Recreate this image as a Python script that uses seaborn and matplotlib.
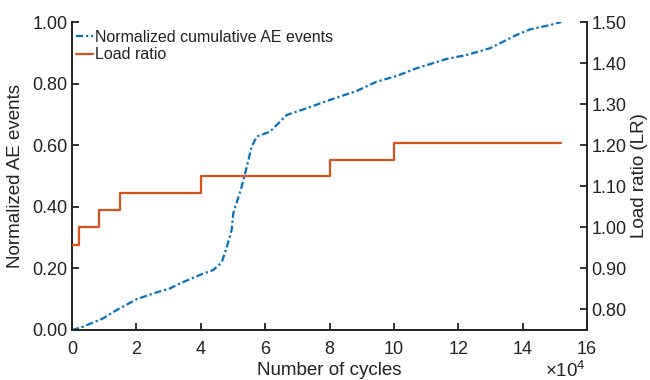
import numpy as np
import pandas as pd
import matplotlib
matplotlib.use("Agg")
import matplotlib.pyplot as plt
import seaborn as sns
from matplotlib.ticker import FuncFormatter, MultipleLocator

# ---- data ----
ae_cycles = [0, 3500, 9700, 13900, 20100, 25300, 30400, 33500, 39800, 43900, 46500,
             48100, 49600, 50100, 52700, 54300, 55800, 57400, 61500, 66700, 72900,
             80100, 88400, 94600, 100900, 107100, 116400, 122600, 129900, 138100,
             142300, 148500, 152000]
ae_norm = [0.000, 0.011, 0.038, 0.065, 0.100, 0.119, 0.135, 0.151, 0.179, 0.195, 0.219,
           0.270, 0.325, 0.379, 0.465, 0.530, 0.595, 0.628, 0.644, 0.698, 0.720,
           0.747, 0.776, 0.806, 0.825, 0.850, 0.880, 0.893, 0.915, 0.958,
           0.976, 0.990, 1.000]

lr_cycles = [0, 2300, 8500, 15000, 40000, 80000, 100000, 152000]
lr_values = [0.958, 1.000, 1.042, 1.084, 1.126, 1.165, 1.206, 1.206]

x_ticks = [0, 2, 4, 6, 8, 10, 12, 14, 16]
label_ae = "Normalized cumulative AE events"
label_lr = "Load ratio"

sns.set_theme(style="ticks")
plt.rcParams['font.family'] = ['Liberation Sans', 'DejaVu Sans']
plt.rcParams['mathtext.fontset'] = 'custom'
plt.rcParams['mathtext.rm'] = 'Liberation Sans'
plt.rcParams['mathtext.it'] = 'Liberation Sans'

blue = "#0072BD"
orange = "#D95319"
ink = "#222222"

fig = plt.figure(figsize=(6.5, 3.8), dpi=100)
ax = fig.add_axes([0.1108, 0.1316, 0.7923, 0.8105])
ax2 = ax.twinx()

df_ae = pd.DataFrame({"cycles": ae_cycles, "ae": ae_norm})
df_lr = pd.DataFrame({"cycles": lr_cycles, "lr": lr_values})

sns.lineplot(data=df_ae, x="cycles", y="ae", ax=ax, color=blue, linewidth=1.6,
             linestyle=(0, (3.2, 1.3, 1.0, 1.3)), sort=False, label=label_ae, legend=False)
sns.lineplot(data=df_lr, x="cycles", y="lr", ax=ax2, color=orange, linewidth=1.6,
             drawstyle="steps-post", sort=False, label=label_lr, legend=False)

ax.set_xlim(0, 160000)
ax.set_ylim(0, 1.0)
ax2.set_ylim(0.75, 1.5)
ax.set_xticks([t * 1e4 for t in x_ticks])
ax.xaxis.set_major_formatter(FuncFormatter(lambda v, p: f"{v/1e4:.0f}"))
ax.yaxis.set_major_locator(MultipleLocator(0.2))
ax.yaxis.set_major_formatter(FuncFormatter(lambda v, p: f"{v:.2f}"))
ax2.set_yticks([0.8, 0.9, 1.0, 1.1, 1.2, 1.3, 1.4, 1.5])
ax2.yaxis.set_major_formatter(FuncFormatter(lambda v, p: f"{v:.2f}"))

for a in (ax, ax2):
    a.tick_params(direction="in", length=5, width=1.3, labelsize=13, colors=ink,
                  labelcolor=ink, pad=3)
    for s in a.spines.values():
        s.set_linewidth(1.4)
        s.set_color(ink)
    a.spines["top"].set_visible(False)
ax.tick_params(axis="x", pad=8)
ax.spines["right"].set_visible(False)
ax2.spines["left"].set_visible(False)
ax2.spines["bottom"].set_visible(False)

ax.set_xlabel("Number of cycles", fontsize=13.5, color=ink, labelpad=3)
ax.set_ylabel("Normalized AE events", fontsize=13.5, color=ink, labelpad=6)
ax2.set_ylabel("Load ratio (LR)", fontsize=13.5, color=ink, labelpad=3)

fig.text(0.901, -0.002, r"$\times$10$^{4}$", ha="right", va="bottom", fontsize=13.5,
         color=ink)

h1, l1 = ax.get_legend_handles_labels()
h2, l2 = ax2.get_legend_handles_labels()
leg = ax2.legend(h1 + h2, l1 + l2, loc="upper left", bbox_to_anchor=(-0.004, 0.995),
                 frameon=False, fontsize=11.5, handlelength=1.05, handletextpad=0.1,
                 labelspacing=0.15, borderaxespad=0.2, borderpad=0.2)
for t in leg.get_texts():
    t.set_color(ink)

fig.savefig("out.png", dpi=100)
